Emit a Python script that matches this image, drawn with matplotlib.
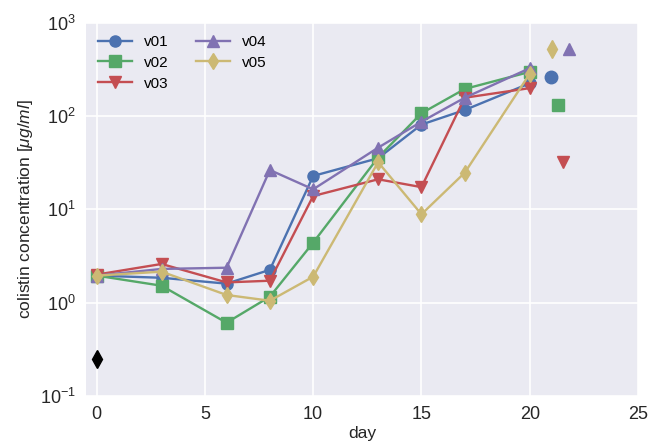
import numpy as np
import matplotlib
matplotlib.use("Agg")
import matplotlib.pyplot as plt

# datos
days = [0, 3, 6, 8, 10, 13, 15, 17, 20]
v01 = [1.95, 1.85, 1.6, 2.25, 22.8, 35.3, 81, 116, 224]
v02 = [1.95, 1.52, 0.61, 1.16, 4.4, 36, 107, 195, 297]
v03 = [2.0, 2.6, 1.65, 1.72, 13.9, 21, 17.3, 157, 199]
v04 = [1.95, 2.3, 2.37, 26.4, 16.4, 45.8, 87, 157, 325]
v05 = [1.95, 2.15, 1.21, 1.05, 1.9, 32, 8.86, 24.7, 283]

# puntos sueltos a la derecha
extra_days = [21.0, 21.3, 21.55, 21.8, 21.05]
extra_vals = [262, 131, 32.5, 520, 520]

# diamante negro en dia 0
ctrl_day = [0]
ctrl_val = [0.247]

names = ["v01", "v02", "v03", "v04", "v05"]
series = [v01, v02, v03, v04, v05]
colors = ["#4C72B0", "#55A868", "#C44E52", "#8172B2", "#CCB974"]
markers = ["o", "s", "v", "^", "d"]

plt.rcParams["font.family"] = ["Liberation Sans", "DejaVu Sans"]
plt.rcParams["mathtext.fontset"] = "custom"
plt.rcParams["mathtext.rm"] = "Liberation Sans"
plt.rcParams["mathtext.it"] = "Liberation Sans:italic"

fig = plt.figure(figsize=(6.52, 4.43), dpi=100)
ax = fig.add_axes([0.1316, 0.106, 0.8469, 0.8428])
ax.set_facecolor("#EAEAF2")
for s in ax.spines.values():
    s.set_visible(False)
ax.grid(True, color="white", linewidth=1.2)
ax.set_axisbelow(True)

for name, vals, c, m in zip(names, series, colors, markers):
    ax.plot(days, vals, color=c, marker=m, markersize=8, linewidth=1.7, label=name)

for d, v, c, m in zip(extra_days, extra_vals, colors, markers):
    ax.plot(d, v, color=c, marker=m, markersize=9, linestyle="none")

ax.plot(ctrl_day, ctrl_val, color="black", marker="d", markersize=9, linestyle="none")

ax.set_yscale("log")
ax.set_ylim(0.1, 1000)
ax.set_xlim(-0.5, 25)
ax.minorticks_off()
ax.yaxis.set_minor_locator(matplotlib.ticker.NullLocator())
ax.tick_params(axis="both", length=0, labelsize=13, pad=7, colors="#262626")

ax.set_xlabel("day", fontsize=12.5, color="#262626", labelpad=2)
ax.set_ylabel("colistin concentration [$\\mu g/ml$]", fontsize=12.5, color="#262626")

ax.legend(loc="upper left", ncol=2, frameon=False, fontsize=11,
          handlelength=2.2, columnspacing=1.8, borderaxespad=0.4,
          labelspacing=0.45)

fig.savefig("out.png", dpi=100)
